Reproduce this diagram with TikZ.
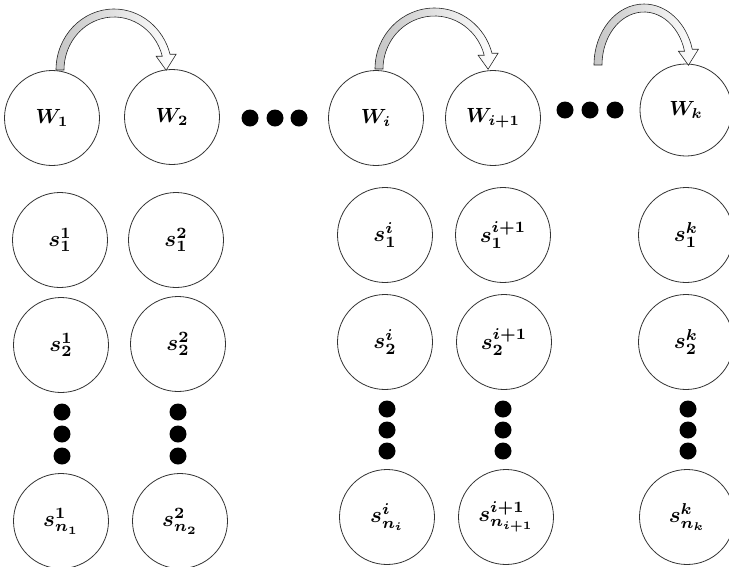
\documentclass[tikz,border=0pt]{standalone}
\usepackage{graphicx}
\usepackage{bm}
\newcommand\lbl[1]{\scalebox{2.05}{$\bm{#1}$}}
\newcommand\slbl[1]{\scalebox{2.25}{$\bm{#1}$}}
\tikzset{
  circ/.style={circle, draw=black!80, line width=0.8pt, minimum size=95pt, inner sep=0pt},
  bigdot/.style={circle, fill=black, minimum size=17pt, inner sep=0pt},
  blockarrow/.style={draw=black!85, line width=0.6pt, left color=gray!45, right color=white}
}
\newcommand\blockarc[4]{%
  \pgfmathsetmacro\px{#1+#3*cos(345)}%
  \pgfmathsetmacro\py{#2+#4*sin(345)}%
  \pgfmathsetmacro\orx{#3+4}\pgfmathsetmacro\ory{#4+4}%
  \pgfmathsetmacro\irx{#3-4}\pgfmathsetmacro\iry{#4-4}%
  \pgfmathsetmacro\oxs{#1-\orx}%
  \pgfmathsetmacro\oye{#2+\ory*sin(345)}%
  \pgfmathsetmacro\ixe{#1+\irx*cos(345)}%
  \pgfmathsetmacro\iye{#2+\iry*sin(345)}%
  \path[blockarrow] (\oxs,#2) arc[start angle=180,end angle=345,x radius=\orx,y radius=\ory]
    -- (\px+10,\oye) -- (\px,\py+15) -- (\px-10,\iye) -- (\ixe,\iye)
    arc[start angle=345,end angle=180,x radius=\irx,y radius=\iry] -- cycle;
}
\begin{document}
\begin{tikzpicture}[x=1pt,y=-1pt]
\useasboundingbox (0,0) rectangle (729,566);
% W row
\node[circ] (w1) at (52,118) {\lbl{W_1}};
\node[circ] (w2) at (172,117) {\lbl{W_2}};
\node[circ] (wi) at (376,118) {\lbl{W_i}};
\node[circ] (wi1) at (493,118) {\lbl{W_{i+1}}};
\node[circ, minimum size=92pt] (wk) at (686,110) {\lbl{W_k}};
% horizontal dots
\node[bigdot] (h1) at (250,118) {};
\node[bigdot] (h2) at (275,118) {};
\node[bigdot] (h3) at (299,118) {};
\node[bigdot] (h4) at (565,110) {};
\node[bigdot] (h5) at (590,110) {};
\node[bigdot] (h6) at (615,110) {};
% arrows
\blockarc{114}{70}{54}{57}
\blockarc{434.5}{69}{55.5}{57}
\blockarc{644}{65}{46}{57}
% s rows
\node[circ] (s11) at (60,240) {\slbl{s_1^1}};
\node[circ] (s12) at (176,240) {\slbl{s_1^2}};
\node[circ] (s1i) at (385,235) {\slbl{s_1^i}};
\node[circ] (s1i1) at (503,235) {\slbl{s_1^{i+1}}};
\node[circ] (s1k) at (686,235) {\slbl{s_1^k}};
\node[circ] (s21) at (61,345) {\slbl{s_2^1}};
\node[circ] (s22) at (178,344) {\slbl{s_2^2}};
\node[circ] (s2i) at (385,342) {\slbl{s_2^i}};
\node[circ] (s2i1) at (504,342) {\slbl{s_2^{i+1}}};
\node[circ] (s2k) at (686,342) {\slbl{s_2^k}};
\node[circ] (sn1) at (61,521) {\slbl{s_{n_1}^1}};
\node[circ] (sn2) at (180,521) {\slbl{s_{n_2}^2}};
\node[circ] (sni) at (387,517) {\slbl{s_{n_i}^i}};
\node[circ] (sni1) at (506,517) {\slbl{s_{n_{i+1}}^{i+1}}};
\node[circ] (snk) at (687,517) {\slbl{s_{n_k}^k}};
% vertical dots
\foreach \x/\n in {62/a,178/b}{
  \node[bigdot] (v\n1) at (\x,412) {};
  \node[bigdot] (v\n2) at (\x,434) {};
  \node[bigdot] (v\n3) at (\x,456) {};
}
\foreach \x/\n in {387/c,503/d,688/e}{
  \node[bigdot] (v\n1) at (\x,409) {};
  \node[bigdot] (v\n2) at (\x,430) {};
  \node[bigdot] (v\n3) at (\x,451) {};
}
\end{tikzpicture}
\end{document}
